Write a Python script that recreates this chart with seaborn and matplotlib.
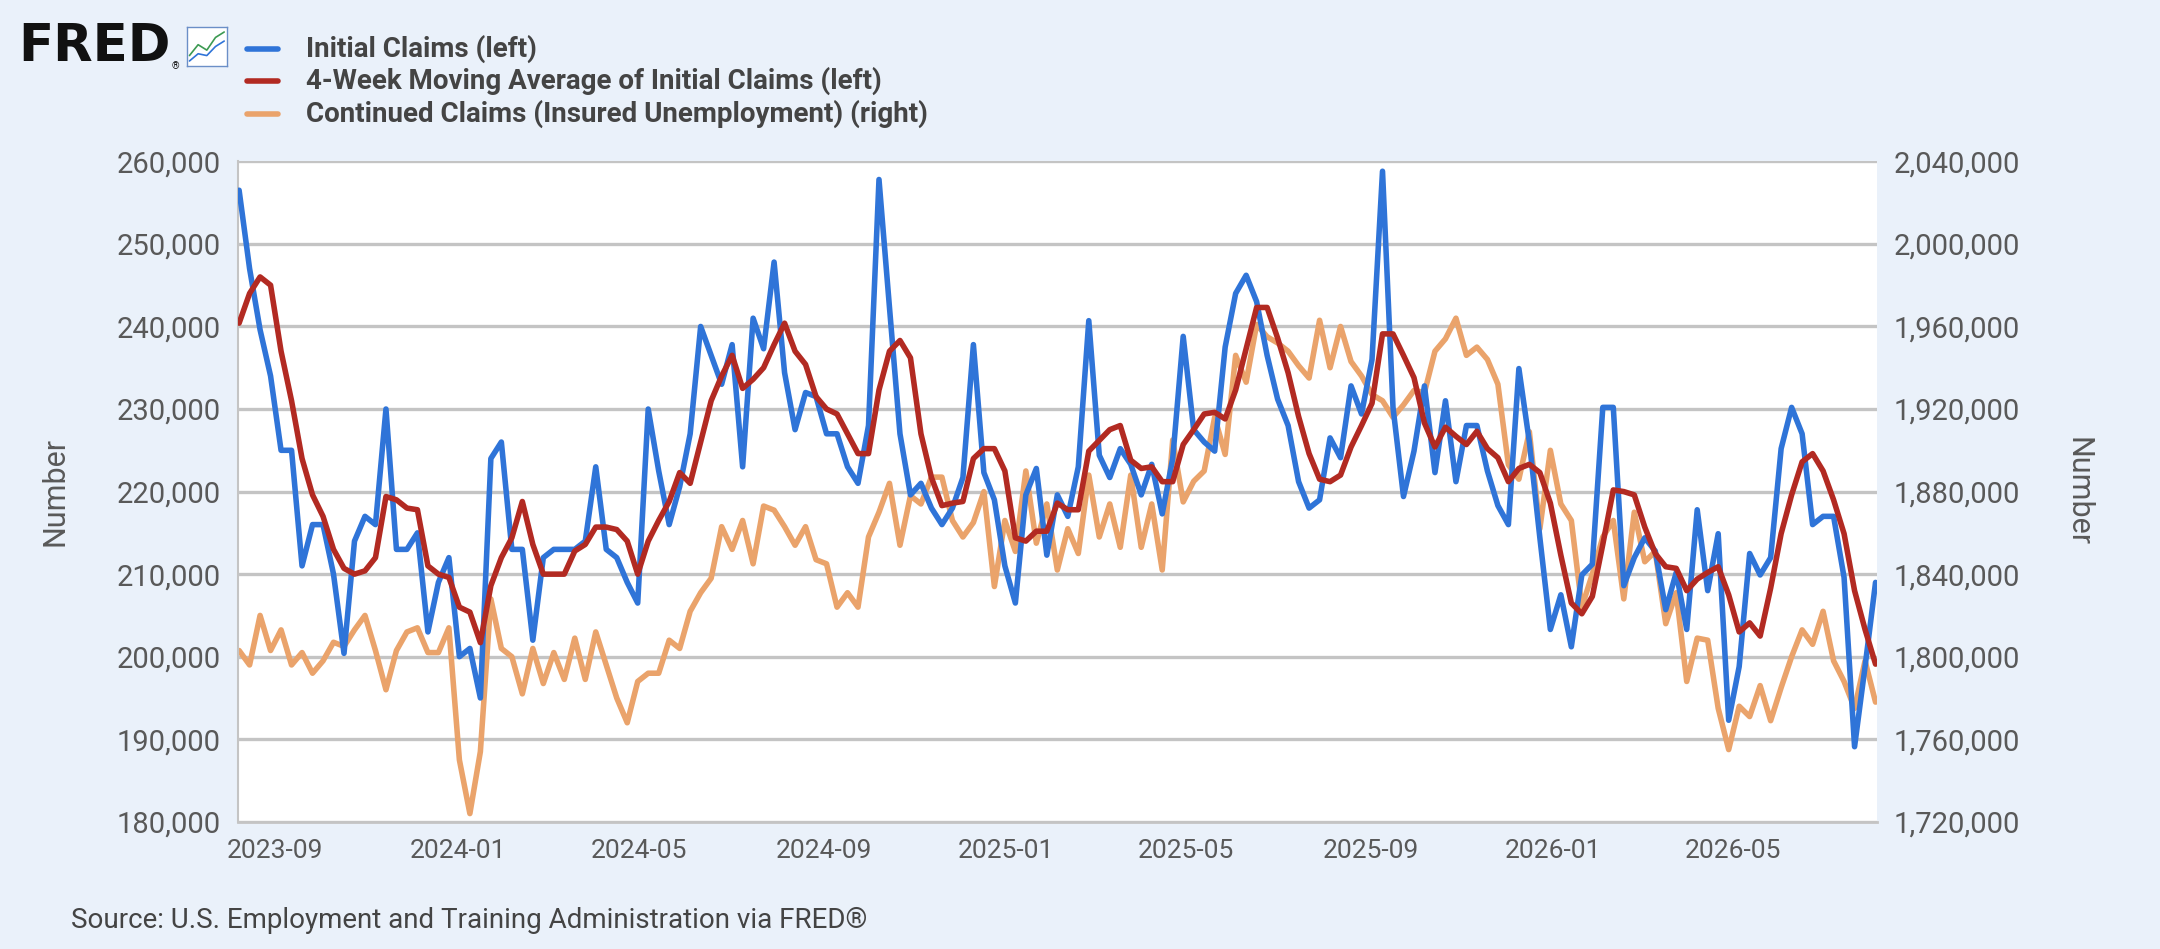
import numpy as np
import pandas as pd
import matplotlib
matplotlib.use("Agg")
import matplotlib.pyplot as plt
from matplotlib.lines import Line2D
from matplotlib.ticker import FuncFormatter
import seaborn as sns

initial_claims_k = [256.5,247,239.6,234,225,225,211,216,216,210,200.4,214,217,216,230,213,213,215,203,209,
212,200,201,195,224,226,213,213,202,212,213,213,213,214,223,213,212,209,206.5,230,
222.5,216,220.6,227,240,236.5,233,237.8,223,241,237.3,247.8,234.4,227.5,232,231.5,227,227,223,221,
228,257.8,242.3,227,219.6,221,218,216,218,221.7,237.8,222.3,219,211,206.5,219.6,222.8,212.3,219.6,217,
223,240.7,224.4,221.7,225.2,223.3,219.6,223.3,217.3,224,238.8,227.5,226,224.9,237.5,244,246.2,243,236.5,231.2,
228,221.2,218,219,226.5,224.1,232.8,229.4,236,258.8,230.2,219.4,224.9,232.8,222.3,231,221.2,228,228,222.5,
218.3,216,234.9,226,214.4,203.3,207.5,201.2,209.9,211.2,230.2,230.2,208.6,212,214.4,212.8,205.7,210.2,203.3,217.8,
208,214.9,192.3,198.8,212.5,209.9,212,225.2,230.2,227,216,217,217,209.6,189.1,198.8,209]

moving_avg_k = [240.4,244,246,245,237,231,224,219.6,217,213,210.7,210,210.4,212,219.4,219,218,217.8,211,210,
209.6,206,205.4,201.7,208.6,212,214.4,218.8,213.6,210,210,210,212.8,213.6,215.7,215.7,215.4,214,210,214,
216.5,218.8,222.3,221,226,231,234,236.5,232.5,233.6,235,237.8,240.4,237,235.4,231.5,230,229.4,227,224.6,
224.6,232.3,237,238.3,236.2,227,221.7,218.3,218.6,218.8,224,225.2,225.2,222.5,214.4,214,215.2,215.2,218.6,217.8,
217.8,224.9,226.2,227.5,228,223.8,222.8,223,221.2,221.2,225.7,227.5,229.4,229.6,228.8,232.3,237.3,242.3,242.3,238.6,
234.4,229.1,224.6,221.5,221.2,222,225.4,228,230.7,239.1,239.1,236.5,233.8,228.3,225.4,227.8,226.7,225.7,227.3,225.2,
224.1,221.2,222.8,223.3,222.3,218.6,212.3,206.5,205.2,207.3,213.6,220.2,220,219.6,215.7,212.5,210.9,210.7,208,209.4,
210.2,210.9,207.5,203,204.1,202.5,208.3,214.9,219.6,223.6,224.6,222.5,219,214.9,208,203.3,199.1]

continued_claims_k = [1803,1796,1820,1803,1813,1796,1802,1792,1798,1807,1805,1813,1820,1803,1784,1803,1812,1814,1802,1802,
1814,1750,1724,1754,1828,1804,1800,1782,1804,1787,1802,1789,1809,1789,1812,1796,1780,1768,1788,1792,
1792,1808,1804,1822,1831,1838,1863,1852,1866,1845,1873,1871,1863,1854,1863,1847,1845,1824,1831,1824,
1858,1870,1884,1854,1878,1874,1887,1887,1866,1858,1865,1880,1834,1866,1851,1890,1855,1874,1842,1862,
1850,1888,1858,1874,1853,1888,1853,1874,1842,1905,1875,1885,1890,1916,1898,1946,1933,1961,1955,1952,
1948,1941,1935,1963,1940,1960,1943,1936,1927,1924,1916,1922,1929,1928,1948,1954,1964,1946,1950,1944,
1932,1893,1886,1909,1862,1900,1874,1866,1824,1840,1858,1866,1828,1870,1846,1851,1816,1831,1788,1809,
1808,1775,1755,1776,1771,1786,1769,1785,1800,1813,1806,1822,1798,1788,1775,1798,1778]

tick_labels = ["2023-09","2024-01","2024-05","2024-09","2025-01","2025-05","2025-09","2026-01","2026-05"]
legend_labels = ["Initial Claims (left)", "4-Week Moving Average of Initial Claims (left)",
                 "Continued Claims (Insured Unemployment) (right)"]

dates = pd.date_range("2023-08-08", periods=len(initial_claims_k), freq="7D")
df = pd.DataFrame({"date": dates,
                   "ic": np.array(initial_claims_k) * 1000,
                   "ma": np.array(moving_avg_k) * 1000,
                   "cc": np.array(continued_claims_k) * 1000})

BLUE, RED, ORANGE = "#2F74D8", "#B22A22", "#EAA36B"
BG = "#EAF1FA"
GRID = "#C4C4C4"
TXT = "#595959"
LW = 4.0

sns.set_theme(style="white")
plt.rcParams["font.family"] = ["Roboto", "DejaVu Sans"]

fig = plt.figure(figsize=(21.6, 9.49), dpi=100, facecolor=BG)
ax = fig.add_axes([0.110, 0.134, 0.759, 0.696])
ax2 = ax.twinx()

sns.lineplot(data=df, x="date", y="ic", ax=ax, color=BLUE, lw=LW, zorder=3)
sns.lineplot(data=df, x="date", y="ma", ax=ax, color=RED, lw=LW, zorder=4)
sns.lineplot(data=df, x="date", y="cc", ax=ax2, color=ORANGE, lw=LW, zorder=2)

ax.set_ylim(180000, 260000)
ax2.set_ylim(1720000, 2040000)
ax.set_yticks(np.arange(180000, 260001, 10000))
ax2.set_yticks(np.arange(1720000, 2040001, 40000))
fmt = FuncFormatter(lambda v, p: f"{int(v):,}")
ax.yaxis.set_major_formatter(fmt)
ax2.yaxis.set_major_formatter(fmt)
ax.set_xlim(dates[0] - pd.Timedelta(days=1), dates[-1] + pd.Timedelta(days=1))

ax2.grid(False)
ax2.set_zorder(0)
ax.set_zorder(1)
ax.patch.set_visible(False)
ax2.patch.set_visible(True)
ax2.patch.set_facecolor("white")
# gridlines drawn on the back axes so they sit below all lines
for v in np.arange(1720000, 2040001, 40000):
    ax2.axhline(v, color=GRID, lw=2.4, zorder=0)

ticks = pd.to_datetime([t + "-01" for t in tick_labels])
ax.set_xticks(ticks)
ax.set_xticklabels(tick_labels)
for a in (ax, ax2):
    for s in a.spines.values():
        s.set_visible(False)
ax.spines["bottom"].set_visible(True)
ax.spines["bottom"].set_color(GRID)
ax.spines["bottom"].set_linewidth(2)
ax.spines["left"].set_visible(True)
ax.spines["left"].set_color(GRID)
ax.spines["left"].set_linewidth(1.5)

ax.tick_params(axis="x", labelsize=19, colors=TXT, length=8, width=1.5, color=GRID, pad=4)
ax.tick_params(axis="y", labelsize=21, colors=TXT, length=0, pad=12)
ax2.tick_params(axis="y", labelsize=21, colors=TXT, length=0, pad=12)
ax.set_xlabel("")
ax.set_ylabel("Number", fontsize=22, color=TXT, labelpad=34)
ax2.set_ylabel("Number", fontsize=22, color=TXT, rotation=270, labelpad=52)

# Header / legend
fig.text(0.0085, 0.950, "FRED", fontsize=37, fontweight="bold", color="#111111",
         va="center", ha="left", family=["DejaVu Sans"])
fig.text(0.0795, 0.927, "®", fontsize=7, color="#111111")
icon = fig.add_axes([0.0865, 0.93, 0.0185, 0.042])
icon.set_xticks([]); icon.set_yticks([])
icon.set_facecolor("white")
for s in icon.spines.values():
    s.set_color("#6b8fc7"); s.set_linewidth(1)
icon.plot([0, 1, 2, 3, 4], [0.3, 0.6, 0.45, 0.8, 0.95], color="#3c9a52", lw=1.2)
icon.plot([0, 1, 2, 3, 4], [0.15, 0.35, 0.3, 0.55, 0.7], color="#2F74D8", lw=1.2)
icon.set_xlim(-0.3, 4.3); icon.set_ylim(0, 1.1)

ys = [0.948, 0.915, 0.880]
for y, c, lab in zip(ys, [BLUE, RED, ORANGE], legend_labels):
    fig.add_artist(Line2D([0.1145, 0.1285], [y, y], color=c, lw=4, transform=fig.transFigure))
    fig.text(0.1415, y, lab, fontsize=20, fontweight="bold", color="#444444", va="center")

fig.text(0.033, 0.030, "Source: U.S. Employment and Training Administration via FRED®",
         fontsize=20, color="#444444", va="center")

fig.savefig("out.png", dpi=100, facecolor=BG)
